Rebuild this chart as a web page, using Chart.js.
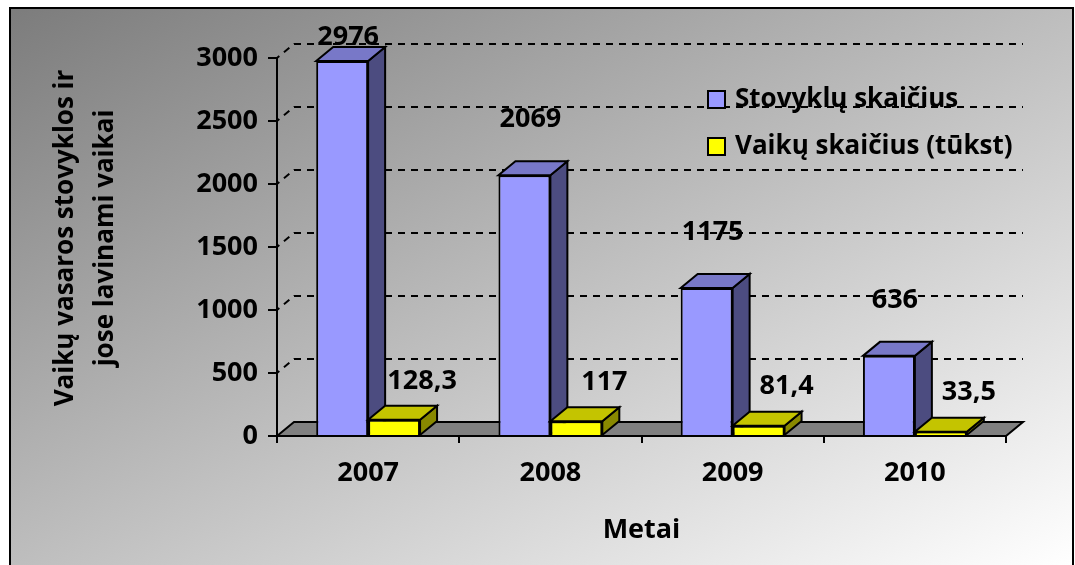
<!DOCTYPE html>
<html>
<head>
<meta charset="utf-8">
<script src="https://cdn.jsdelivr.net/npm/chart.js@4.4.1/dist/chart.umd.min.js"></script>
<style>
  html, body { margin: 0; padding: 0; background: #fff; }
  #wrap { width: 1075px; height: 565px; position: relative; }
</style>
</head>
<body>
<div id="wrap"><canvas id="chart"></canvas></div>
<script>
  // chart data
  const years = ["2007", "2008", "2009", "2010"];
  const camps = [2976, 2069, 1175, 636];
  const children = [128.3, 117, 81.4, 33.5];
  const seriesNames = ["Stovyklų skaičius", "Vaikų skaičius (tūkst)"];
  const yTickValues = [0, 500, 1000, 1500, 2000, 2500, 3000];
  const yTitleLines = ["Vaikų vasaros stovyklos ir", "jose lavinami vaikai"];
  const xTitle = "Metai";

  const FONT = "'Open Sans', 'DejaVu Sans', sans-serif";
  const DX = 17;
  const DY = -14;

  const faces = [
    { top: "#7878c8", side: "#4c4c80" },
    { top: "#c4c400", side: "#898900" },
  ];

  function fmtValue(v) {
    return String(v).replace(".", ",");
  }

  function drawBox(ctx, bar, face) {
    const { x, y, width, base } = bar.getProps(["x", "y", "width", "base"], true);
    const l = x - width / 2;
    const r = x + width / 2;
    ctx.save();
    ctx.lineWidth = 2;
    ctx.strokeStyle = "#000";
    ctx.lineJoin = "miter";
    ctx.beginPath();
    ctx.moveTo(r, y);
    ctx.lineTo(r + DX, y + DY);
    ctx.lineTo(r + DX, base + DY);
    ctx.lineTo(r, base);
    ctx.closePath();
    ctx.fillStyle = face.side;
    ctx.fill();
    ctx.stroke();
    ctx.beginPath();
    ctx.moveTo(l, y);
    ctx.lineTo(l + DX, y + DY);
    ctx.lineTo(r + DX, y + DY);
    ctx.lineTo(r, y);
    ctx.closePath();
    ctx.fillStyle = face.top;
    ctx.fill();
    ctx.stroke();
    ctx.restore();
  }

  const backdrop = {
    id: "backdrop",
    beforeDraw(chart) {
      const { ctx, width, height } = chart;
      const x0 = 10, y0 = 8, w = width - 12, h = height - 8;
      const k = (2 * w * h) / (w * w + h * h);
      ctx.save();
      ctx.fillStyle = "#fff";
      ctx.fillRect(0, 0, width, height);
      const g = ctx.createLinearGradient(x0, y0, x0 + k * h, y0 + k * w);
      g.addColorStop(0, "#7c7c7c");
      g.addColorStop(1, "#ffffff");
      ctx.fillStyle = g;
      ctx.fillRect(x0, y0, w, h);
      ctx.lineWidth = 2;
      ctx.strokeStyle = "#000";
      ctx.strokeRect(x0, y0, w, h + 4);
      ctx.restore();
    },
  };

  const walls = {
    id: "walls",
    beforeDatasetsDraw(chart) {
      const { ctx, chartArea } = chart;
      const yScale = chart.scales.y;
      const left = chartArea.left;
      const right = chartArea.right;
      const y0 = yScale.getPixelForValue(0);
      ctx.save();
      // floor
      ctx.beginPath();
      ctx.moveTo(left, y0);
      ctx.lineTo(left + DX, y0 + DY);
      ctx.lineTo(right + DX, y0 + DY);
      ctx.lineTo(right, y0);
      ctx.closePath();
      ctx.fillStyle = "#808080";
      ctx.fill();
      ctx.lineWidth = 2;
      ctx.strokeStyle = "#000";
      ctx.stroke();
      // dashed gridlines on the back wall
      ctx.setLineDash([7, 6]);
      yTickValues.forEach((v) => {
        if (v === 0) return;
        const py = yScale.getPixelForValue(v);
        ctx.beginPath();
        ctx.lineDashOffset = 4;
        ctx.moveTo(left, py);
        ctx.lineTo(left + DX, py + DY);
        ctx.lineTo(right + DX, py + DY);
        ctx.stroke();
      });
      ctx.restore();
    },
    afterDatasetsDraw(chart) {
      const { ctx } = chart;
      const front = chart.getDatasetMeta(0);
      const back = chart.getDatasetMeta(1);
      front.data.forEach((bar, i) => {
        drawBox(ctx, bar, faces[0]);
        back.data[i].draw(ctx);
        drawBox(ctx, back.data[i], faces[1]);
      });
    },
  };

  const valueLabels = {
    id: "valueLabels",
    afterDatasetsDraw(chart) {
      const { ctx } = chart;
      ctx.save();
      ctx.font = `bold 27px ${FONT}`;
      ctx.fillStyle = "#000";
      ctx.textAlign = "center";
      ctx.textBaseline = "middle";
      chart.getDatasetMeta(0).data.forEach((bar, i) => {
        ctx.fillText(fmtValue(camps[i]), bar.x + 6, Math.max(bar.y - 56, 37));
      });
      chart.getDatasetMeta(1).data.forEach((bar, i) => {
        ctx.fillText(fmtValue(children[i]), bar.x + 28, bar.y - 39);
      });
      ctx.restore();
    },
  };

  const sideTexts = {
    id: "sideTexts",
    afterDraw(chart) {
      const { ctx } = chart;
      ctx.save();
      // y axis title, two rotated lines
      ctx.font = `bold 26px ${FONT}`;
      ctx.fillStyle = "#000";
      ctx.textAlign = "center";
      ctx.textBaseline = "alphabetic";
      yTitleLines.forEach((line, i) => {
        ctx.save();
        ctx.translate(73 + i * 40, 238);
        ctx.rotate(-Math.PI / 2);
        ctx.fillText(line, 0, 0);
        ctx.restore();
      });
      // legend
      ctx.font = `bold 26px ${FONT}`;
      ctx.textAlign = "left";
      ctx.textBaseline = "middle";
      chart.data.datasets.forEach((ds, i) => {
        const top = 91 + i * 47;
        ctx.fillStyle = ds.backgroundColor;
        ctx.fillRect(708, top, 17, 17);
        ctx.lineWidth = 2;
        ctx.strokeStyle = "#000";
        ctx.strokeRect(708, top, 17, 17);
        ctx.fillStyle = "#000";
        ctx.fillText(ds.label, 735, top + 9);
      });
      ctx.restore();
    },
  };

  const tickFont = { family: FONT, weight: "bold", size: 27 };

  new Chart(document.getElementById("chart"), {
    type: "bar",
    data: {
      labels: years,
      datasets: [
        {
          label: seriesNames[0],
          data: camps,
          backgroundColor: "#9999ff",
          borderColor: "#000",
          borderWidth: 2,
        },
        {
          label: seriesNames[1],
          data: children,
          backgroundColor: "#ffff00",
          borderColor: "#000",
          borderWidth: 2,
        },
      ],
    },
    options: {
      responsive: true,
      maintainAspectRatio: false,
      animation: false,
      layout: { padding: { top: 58, right: 69, bottom: 0, left: 0 } },
      datasets: { bar: { categoryPercentage: 0.57, barPercentage: 1 } },
      plugins: {
        legend: { display: false },
        tooltip: { enabled: false },
      },
      scales: {
        x: {
          grid: { drawOnChartArea: false, drawTicks: true, tickLength: 7, color: "#000", lineWidth: 2 },
          border: { display: true, color: "#000", width: 2 },
          ticks: { color: "#000", font: tickFont, padding: 14, maxRotation: 0 },
          title: { display: true, text: xTitle, color: "#000", font: tickFont, padding: { top: 0, bottom: 18 } },
          afterFit(scale) {
            scale.height = 129;
          },
        },
        y: {
          min: 0,
          max: 3000,
          afterBuildTicks(scale) {
            scale.ticks = yTickValues.map((value) => ({ value }));
          },
          grid: { drawOnChartArea: false, drawTicks: true, tickLength: 9, color: "#000", lineWidth: 2 },
          border: { display: true, color: "#000", width: 2 },
          ticks: { color: "#000", font: tickFont, padding: 10, callback: (v) => String(v) },
          afterFit(scale) {
            scale.width = 277;
          },
        },
      },
    },
    plugins: [backdrop, walls, valueLabels, sideTexts],
  });
</script>
</body>
</html>
